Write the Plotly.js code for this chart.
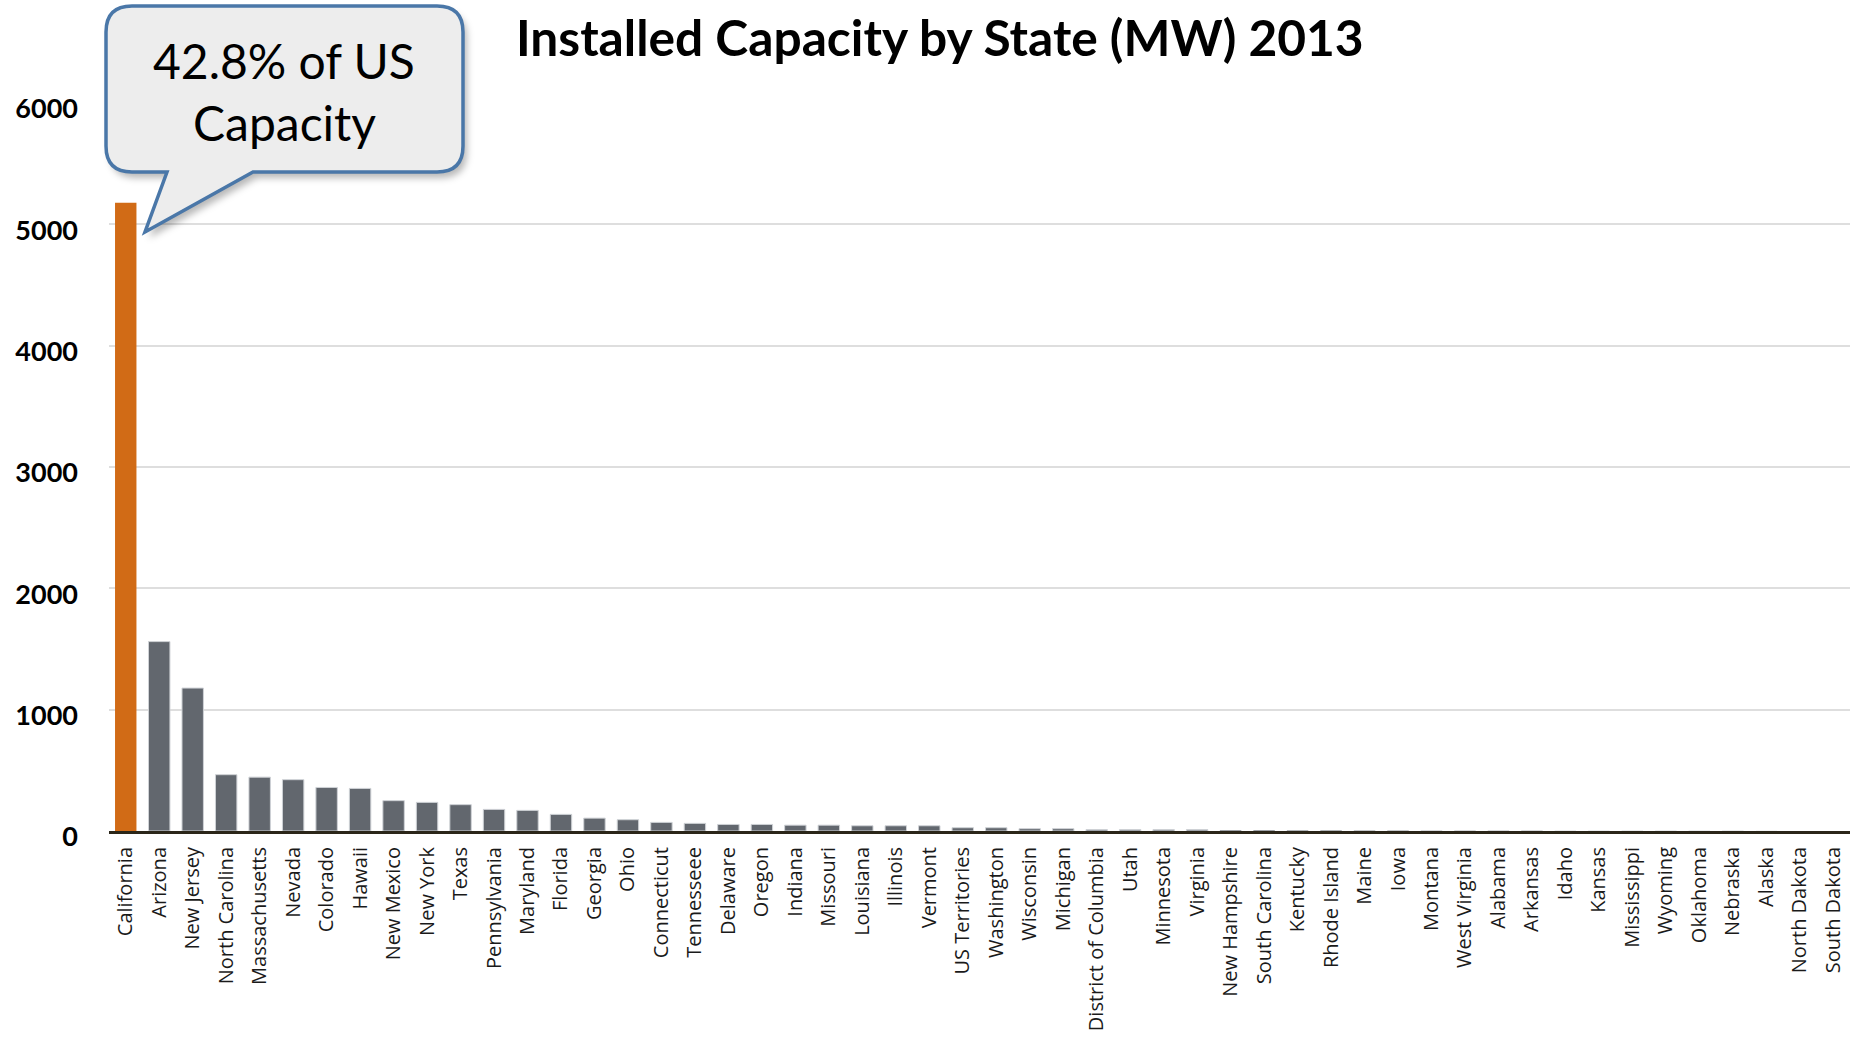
<!DOCTYPE html>
<html>
<head>
<meta charset="utf-8">
<script src="https://cdn.plot.ly/plotly-3.0.1.min.js"></script>
<style>
  html, body { margin: 0; padding: 0; background: #ffffff; }
  #chart { width: 1850px; height: 1039px; }
</style>
</head>
<body>
<div id="chart"></div>
<script>
// Installed solar capacity by state, 2013 (MW)
const states = [
  'California', 'Arizona', 'New Jersey', 'North Carolina', 'Massachusetts',
  'Nevada', 'Colorado', 'Hawaii', 'New Mexico', 'New York', 'Texas',
  'Pennsylvania', 'Maryland', 'Florida', 'Georgia', 'Ohio', 'Connecticut',
  'Tennesseee', 'Delaware', 'Oregon', 'Indiana', 'Missouri', 'Louisiana',
  'Illinois', 'Vermont', 'US Territories', 'Washington', 'Wisconsin',
  'Michigan', 'District of Columbia', 'Utah', 'Minnesota', 'Virginia',
  'New Hampshire', 'South Carolina', 'Kentucky', 'Rhode Island', 'Maine',
  'Iowa', 'Montana', 'West Virginia', 'Alabama', 'Arkansas', 'Idaho',
  'Kansas', 'Mississippi', 'Wyoming', 'Oklahoma', 'Nebraska', 'Alaska',
  'North Dakota', 'South Dakota'
];

const capacityMW = [
  5178, 1561, 1178, 464, 444,
  423, 359, 351, 250, 236, 217,
  178, 170, 137, 106, 93, 71,
  63, 54, 54, 48, 48, 43,
  43, 43, 27, 27, 19,
  19, 11, 11, 11, 11,
  5, 5, 4, 4, 3,
  3, 2, 2, 2, 2, 1,
  1, 1, 1, 1, 1, 0.5,
  0.2, 0.2
];

const highlightState = 'California';
const calloutLines = ['42.8% of US', 'Capacity'];
const chartTitle = 'Installed Capacity by State (MW) 2013';
const yTicks = [0, 1000, 2000, 3000, 4000, 5000, 6000];

// Page geometry
const W = 1850, H = 1039;
const M = { l: 109, r: 0, t: 103, b: 208 };
const PW = W - M.l - M.r;
const PH = H - M.t - M.b;

// pixel -> paper coordinate helpers for the callout decoration
const px = x => ((x - M.l) / PW).toFixed(5);
const py = y => ((H - M.b - y) / PH).toFixed(5);
const P = (x, y) => px(x) + ',' + py(y);

function calloutPath(dx, dy) {
  const x0 = 106 + dx, x1 = 463 + dx, y0 = 6 + dy, y1 = 172 + dy, r = 26;
  return [
    'M', P(x0 + r, y0),
    'L', P(x1 - r, y0),
    'Q', P(x1, y0), P(x1, y0 + r),
    'L', P(x1, y1 - r),
    'Q', P(x1, y1), P(x1 - r, y1),
    'L', P(253 + dx, y1),
    'L', P(145 + dx, 232 + dy),
    'L', P(167 + dx, y1),
    'L', P(x0 + r, y1),
    'Q', P(x0, y1), P(x0, y1 - r),
    'L', P(x0, y0 + r),
    'Q', P(x0, y0), P(x0 + r, y0),
    'Z'
  ].join(' ');
}

const barColors = states.map(s => s === highlightState ? '#d16b16' : '#62676e');
const barLineWidths = states.map((s, i) => (s === highlightState || capacityMW[i] < 10) ? 0 : 1);

const trace = {
  type: 'bar',
  x: states,
  y: capacityMW,
  marker: {
    color: barColors,
    line: { color: '#cfd2d6', width: barLineWidths }
  },
  hoverinfo: 'x+y'
};

const layout = {
  width: W,
  height: H,
  margin: M,
  paper_bgcolor: '#ffffff',
  plot_bgcolor: '#ffffff',
  showlegend: false,
  bargap: 0.36,
  font: { family: 'Open Sans, sans-serif', color: '#1a1a1a' },
  title: {
    text: chartTitle,
    font: { family: 'Lato, sans-serif', size: 49.7, weight: 700, color: '#000000' },
    xref: 'container', x: 0.508, xanchor: 'center',
    yref: 'container', y: 0.963, yanchor: 'middle'
  },
  xaxis: {
    type: 'category',
    tickangle: -90,
    tickfont: { family: 'Open Sans, sans-serif', size: 20, color: '#1a1a1a' },
    showline: true,
    linecolor: '#2b2619',
    linewidth: 3,
    showgrid: false,
    zeroline: false,
    ticks: '',
    ticklabelstandoff: 5,
    fixedrange: true
  },
  yaxis: {
    range: [0, 6000],
    tickvals: yTicks,
    ticktext: yTicks.map(String),
    tickfont: { family: 'Lato, sans-serif', size: 27, weight: 700, color: '#000000' },
    showgrid: true,
    gridcolor: '#dedede',
    gridwidth: 2,
    zeroline: false,
    showline: false,
    ticks: '',
    ticklabelstandoff: 30,
    ticklabelshift: 6,
    fixedrange: true
  },
  shapes: [
    {
      type: 'path', xref: 'paper', yref: 'paper', layer: 'above',
      path: calloutPath(4, 6),
      fillcolor: 'rgba(0,0,0,0.28)',
      line: { width: 0 }
    },
    {
      type: 'path', xref: 'paper', yref: 'paper', layer: 'above',
      path: calloutPath(0, 0),
      fillcolor: '#ededed',
      line: { color: '#4a77a8', width: 3.5 }
    }
  ],
  annotations: [
    {
      xref: 'paper', yref: 'paper', showarrow: false,
      x: +px(284.5), y: +py(60.6), xanchor: 'center', yanchor: 'middle',
      text: calloutLines[0],
      font: { family: 'Lato, sans-serif', size: 48, color: '#000000' }
    },
    {
      xref: 'paper', yref: 'paper', showarrow: false,
      x: +px(284.5), y: +py(123), xanchor: 'center', yanchor: 'middle',
      text: calloutLines[1],
      font: { family: 'Lato, sans-serif', size: 48, color: '#000000' }
    }
  ]
};

Plotly.newPlot('chart', [trace], layout, { displayModeBar: false, staticPlot: true }).then(gd => {
  // soften the callout's drop shadow
  const NS = 'http://www.w3.org/2000/svg';
  const svg = gd.querySelector('.main-svg');
  const defs = svg.querySelector('defs') || svg.insertBefore(document.createElementNS(NS, 'defs'), svg.firstChild);
  const filter = document.createElementNS(NS, 'filter');
  filter.setAttribute('id', 'callout-shadow');
  filter.setAttribute('x', '-20%'); filter.setAttribute('y', '-20%');
  filter.setAttribute('width', '140%'); filter.setAttribute('height', '140%');
  const blur = document.createElementNS(NS, 'feGaussianBlur');
  blur.setAttribute('stdDeviation', '3.5');
  filter.appendChild(blur);
  defs.appendChild(filter);
  const shapePaths = gd.querySelectorAll('.layer-above .shapelayer path');
  if (shapePaths.length) shapePaths[0].setAttribute('filter', 'url(#callout-shadow)');
});
</script>
</body>
</html>
